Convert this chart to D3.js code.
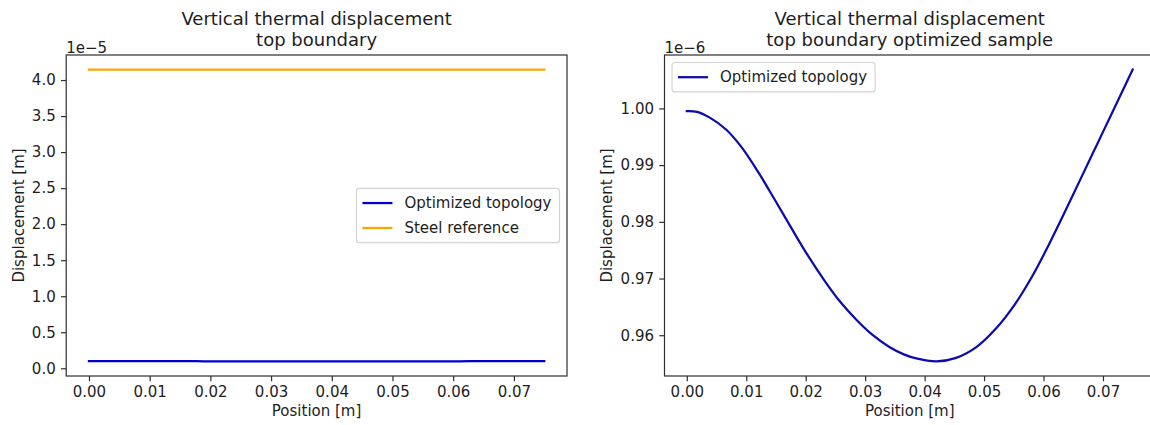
<!DOCTYPE html>
<html>
<head>
<meta charset="utf-8">
<script src="https://cdn.jsdelivr.net/npm/d3@7"></script>
<style>
  html, body { margin: 0; padding: 0; background: #fff; }
  svg { display: block; font-family: "DejaVu Sans", sans-serif; }
</style>
</head>
<body>
<svg id="chart" width="1150" height="425"></svg>
<script>
// Sample positions along the top boundary [m]
const position = [0.0000, 0.0017, 0.0038, 0.0066, 0.0093, 0.0121, 0.0148, 0.0176, 0.0203,
  0.0231, 0.0258, 0.0286, 0.0313, 0.0340, 0.0365, 0.0386, 0.0420, 0.0453, 0.0487,
  0.0520, 0.0553, 0.0581, 0.0610, 0.0638, 0.0666, 0.0689, 0.0711, 0.0750];
// Vertical thermal displacement of the optimized topology [1e-6 m]
const optimizedDisp = [0.99952, 0.99940, 0.99842, 0.99628, 0.99304, 0.98862, 0.98389, 0.97888,
  0.97416, 0.96973, 0.96589, 0.96265, 0.96000, 0.95797, 0.95662, 0.95590, 0.95538, 0.95600,
  0.95790, 0.96117, 0.96563, 0.97039, 0.97619, 0.98221, 0.98837, 0.99343, 0.99827, 1.00685];
// Steel reference: constant displacement along the boundary [1e-6 m]
const steelPosition = [0.0, 0.075];
const steelDisp = [41.45, 41.45];

// Tick values
const xTicks = [0.00, 0.01, 0.02, 0.03, 0.04, 0.05, 0.06, 0.07];
const leftYTicks = [0.0, 0.5, 1.0, 1.5, 2.0, 2.5, 3.0, 3.5, 4.0];
const rightYTicks = [0.96, 0.97, 0.98, 0.99, 1.00];

const svg = d3.select("#chart");
const FS = 15;          // tick / label / legend font size
const TITLE_FS = 18;
const TICK = 5.25;      // tick length and tick-label pad
const SPINE = "#2e2e2e";
const INK = "#1e1e1e";

function panel(cfg) {
  const { left, right, top, bottom } = cfg.box;
  const g = svg.append("g");

  // Autoscale with 5% margins on both axes
  const allX = cfg.series.flatMap(s => s.x);
  const allY = cfg.series.flatMap(s => s.y.map(v => v * cfg.factor));
  const [x0, x1] = d3.extent(allX);
  const [y0, y1] = d3.extent(allY);
  const mx = (x1 - x0) * 0.05, my = (y1 - y0) * 0.05;
  const x = d3.scaleLinear().domain([x0 - mx, x1 + mx]).range([left, right]);
  const y = d3.scaleLinear().domain([y0 - my, y1 + my]).range([bottom, top]);

  // Data lines
  const clipId = "clip" + cfg.id;
  svg.append("clipPath").attr("id", clipId)
    .append("rect").attr("x", left).attr("y", top)
    .attr("width", right - left).attr("height", bottom - top);
  const lines = g.append("g").attr("clip-path", `url(#${clipId})`);
  cfg.series.forEach(s => {
    const pts = s.x.map((xv, i) => [xv, s.y[i] * cfg.factor]);
    lines.append("path")
      .attr("d", d3.line().curve(d3.curveCatmullRom.alpha(0.5)).x(d => x(d[0])).y(d => y(d[1]))(pts))
      .attr("fill", "none").attr("stroke", s.color).attr("stroke-width", 2.25)
      .attr("stroke-linecap", "square");
  });

  // Axes
  const xAxis = g.append("g").attr("transform", `translate(0,${bottom})`)
    .call(d3.axisBottom(x).tickValues(xTicks).tickFormat(d3.format(".2f"))
      .tickSize(TICK).tickPadding(TICK));
  const yAxis = g.append("g").attr("transform", `translate(${left},0)`)
    .call(d3.axisLeft(y).tickValues(cfg.yTicks).tickFormat(d3.format(cfg.yFmt))
      .tickSize(TICK).tickPadding(TICK));
  [xAxis, yAxis].forEach(a => {
    a.select(".domain").remove();
    a.selectAll("line").attr("stroke", SPINE).attr("stroke-width", 1.2);
    a.selectAll("text").attr("font-size", FS).attr("fill", INK)
      .attr("font-family", "DejaVu Sans");
  });

  // Frame
  g.append("rect").attr("x", left).attr("y", top)
    .attr("width", right - left).attr("height", bottom - top)
    .attr("fill", "none").attr("stroke", SPINE).attr("stroke-width", 1.2);

  // Axis labels
  g.append("text").attr("x", (left + right) / 2).attr("y", 416)
    .attr("text-anchor", "middle").attr("font-size", FS).attr("fill", INK)
    .text("Position [m]");
  g.append("text")
    .attr("transform", `translate(${cfg.ylabelX},${(top + bottom) / 2}) rotate(-90)`)
    .attr("text-anchor", "middle").attr("font-size", FS).attr("fill", INK)
    .text("Displacement [m]");

  // Offset (scale) text
  g.append("text").attr("x", left).attr("y", 52.5)
    .attr("font-size", FS).attr("fill", INK).text(cfg.offset);

  // Title (two lines)
  const t = g.append("text").attr("text-anchor", "middle")
    .attr("font-size", TITLE_FS).attr("fill", INK);
  cfg.title.forEach((line, i) => {
    t.append("tspan").attr("x", (left + right) / 2).attr("y", i === 0 ? 24.5 : 45.5).text(line);
  });

  // Legend
  const lg = g.append("g");
  const rowH = 17.4, rowGap = 7.5, pad = 6, handleLen = 30, handlePad = 12;
  const texts = cfg.series.map(s => lg.append("text")
    .attr("font-size", FS).attr("fill", INK).text(s.name));
  const textW = d3.max(texts, tx => tx.node().getComputedTextLength());
  const w = pad + handleLen + handlePad + textW + pad + 2;
  const h = pad * 2 + cfg.series.length * rowH + (cfg.series.length - 1) * rowGap;
  let bx, by;
  if (cfg.legend === "center right") { bx = right - 7.5 - w; by = (top + bottom) / 2 - h / 2; }
  else { bx = left + 7.5; by = top + 7.5; }
  lg.insert("rect", "text").attr("x", bx).attr("y", by).attr("width", w).attr("height", h)
    .attr("rx", 3).attr("fill", "#fff").attr("fill-opacity", 0.8)
    .attr("stroke", "#d4d4d4").attr("stroke-width", 1.2);
  cfg.series.forEach((s, i) => {
    const cy = by + pad + i * (rowH + rowGap) + rowH / 2;
    lg.append("line").attr("x1", bx + pad).attr("x2", bx + pad + handleLen)
      .attr("y1", cy).attr("y2", cy).attr("stroke", s.color).attr("stroke-width", 2.25);
    texts[i].attr("x", bx + pad + handleLen + handlePad).attr("y", cy)
      .attr("dominant-baseline", "central");
  });
}

panel({
  id: "L",
  box: { left: 66.2, right: 567, top: 55, bottom: 376 },
  factor: 0.1,
  series: [
    { name: "Optimized topology", x: position, y: optimizedDisp, color: "#0000cd" },
    { name: "Steel reference", x: steelPosition, y: steelDisp, color: "#ffa500" }
  ],
  yTicks: leftYTicks, yFmt: ".1f",
  ylabelX: 23.5,
  offset: "1e\u22125",
  title: ["Vertical thermal displacement", "top boundary"],
  legend: "center right"
});

panel({
  id: "R",
  box: { left: 664.5, right: 1155, top: 55, bottom: 376 },
  factor: 1,
  series: [
    { name: "Optimized topology", x: position, y: optimizedDisp, color: "#0c0cae" }
  ],
  yTicks: rightYTicks, yFmt: ".2f",
  ylabelX: 612.3,
  offset: "1e\u22126",
  title: ["Vertical thermal displacement", "top boundary optimized sample"],
  legend: "upper left"
});
</script>
</body>
</html>
